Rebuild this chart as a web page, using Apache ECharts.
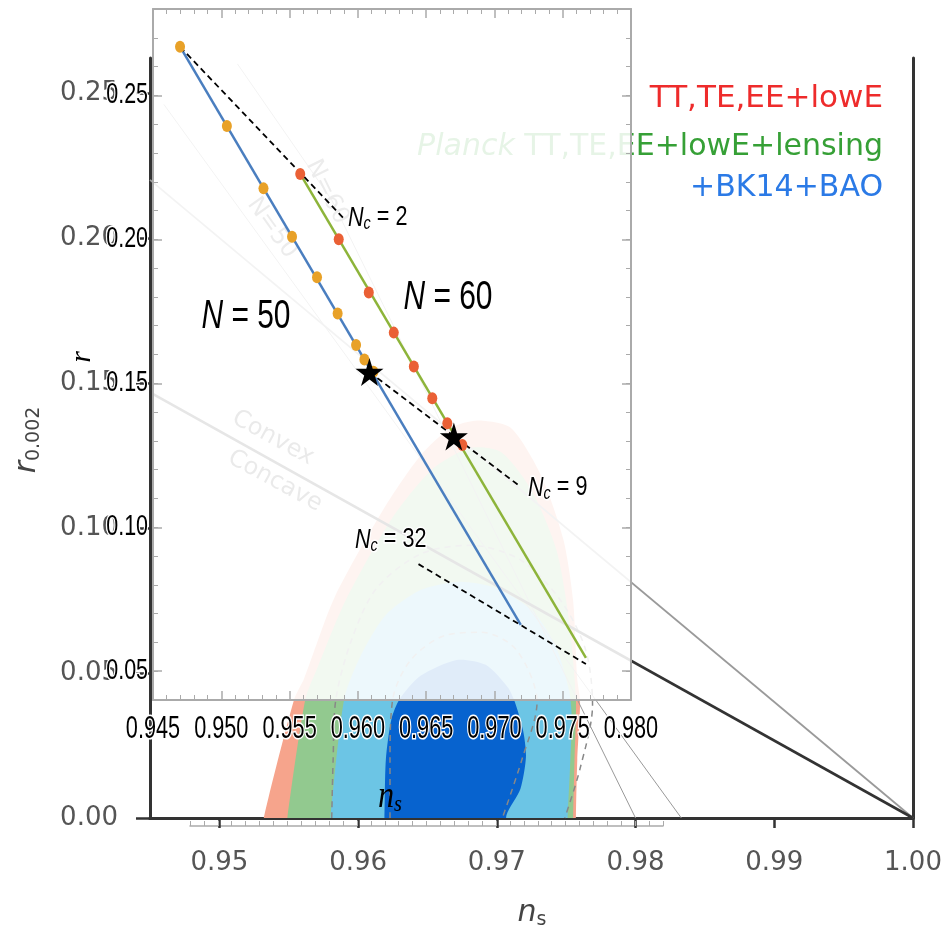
<!DOCTYPE html>
<html>
<head>
<meta charset="utf-8">
<script src="https://cdn.jsdelivr.net/npm/echarts@6/dist/echarts.min.js"></script>
<style>
html,body{margin:0;padding:0;background:#fff}
#chart{width:947px;height:928px}
</style>
</head>
<body>
<div id="chart"></div>
<script>
// ---- background panel (Planck n_s - r plane) ----
const bgTickX = [0.95, 0.96, 0.97, 0.98, 0.99, 1.00];
const bgTickY = [0.00, 0.05, 0.10, 0.15, 0.20, 0.25];

const redContour = [[0.9530,-0.01],[0.9532,0],[0.9554,0.041],[0.9561,0.048],[0.9583,0.076],[0.9619,0.107],[0.9645,0.125],
  [0.9667,0.1345],[0.9686,0.137],[0.9710,0.1345],[0.9732,0.118],[0.9748,0.096],[0.9755,0.075],
  [0.9758,0.048],[0.9760,0.040],[0.9758,0.020],[0.9757,0],[0.9757,-0.01]];
const greenContour = [[0.9548,-0.01],[0.9549,0],[0.9562,0.041],[0.9570,0.051],[0.9591,0.075],[0.9624,0.103],[0.9653,0.120],
  [0.9681,0.1276],[0.9703,0.1262],[0.9725,0.113],[0.9743,0.0924],[0.9752,0.0683],[0.9757,0.041],[0.9756,0.020],
  [0.9755,0],[0.9755,-0.01]];
const lightBlueContour = [[0.9579,-0.01],[0.9580,0],[0.9590,0.041],[0.9602,0.056],[0.9620,0.070],[0.9645,0.0786],[0.9672,0.0814],
  [0.9699,0.0793],[0.9725,0.0717],[0.9742,0.0597],[0.9752,0.0441],[0.9754,0.035],[0.9753,0.020],[0.9751,0],[0.9750,-0.01]];
const darkBlueContour = [[0.9618,-0.01],[0.9619,0],[0.9620,0.020],[0.9624,0.034],[0.9630,0.041],[0.9645,0.049],[0.9671,0.0545],
  [0.9692,0.0528],[0.9708,0.045],[0.9713,0.040],[0.9719,0.030],[0.9721,0.021],[0.9717,0.010],[0.9707,0.001],[0.9705,-0.01]];
const dashOuter = [[0.9581,0],[0.9582,0.020],[0.9584,0.041],[0.9595,0.061],[0.9613,0.079],[0.9645,0.091],
  [0.9681,0.094],[0.9717,0.089],[0.9746,0.075],[0.9764,0.058],[0.9769,0.039],[0.9760,0.017],[0.9749,0]];
const dashInner = [[0.9623,0],[0.9623,0.020],[0.9625,0.041],[0.9638,0.0545],[0.9663,0.063],[0.9689,0.064],
  [0.9714,0.058],[0.9729,0.040],[0.9718,0.020],[0.9704,0]];
const convexLine = [[0.945, 0.1467], [1.0, 0]];
const phi2Line = [[0.945, 0.22], [1.0, 0]];
const bgN60Line = [[0.9800, 0], [0.9581, 0.213], [0.9513, 0.260]];
const bgN50Line = [[0.9833, 0], [0.9460, 0.246]];

// ---- inset (model predictions) ----
const insetTickX = [0.945, 0.950, 0.955, 0.960, 0.965, 0.970, 0.975, 0.980];
const insetTickY = [0.05, 0.10, 0.15, 0.20, 0.25];
const insetMinorY = [0.05,0.06,0.07,0.08,0.09,0.10,0.11,0.12,0.13,0.14,0.15,0.16,0.17,0.18,0.19,
  0.20,0.21,0.22,0.23,0.24,0.25,0.26,0.27,0.28];
const n50Line = [[0.94698, 0.2669], [0.97193, 0.0661]];
const n60Line = [[0.95578, 0.2227], [0.97670, 0.0546]];
const n50Dots = [[0.94698,0.2669],[0.95041,0.2394],[0.95309,0.2177],[0.95518,0.2009],[0.95701,0.1868],
  [0.95852,0.1742],[0.95987,0.1633],[0.96048,0.1583],[0.96114,0.1540]];
const n60Dots = [[0.95578,0.2227],[0.95860,0.2000],[0.96080,0.1815],[0.96263,0.1676],[0.96410,0.1558],
  [0.96545,0.1448],[0.96655,0.1361],[0.96765,0.1286]];
const stars = [[0.96085,0.1539],[0.96703,0.1315]];
const nc2Line = [[0.94698,0.2669],[0.95894,0.2074]];
const nc9Line = [[0.96085,0.1539],[0.97193,0.1140]];
const nc32Line = [[0.96444,0.0872],[0.97670,0.0525]];

// the inset texts are horizontally squeezed in the original, so they get a scaleX
const ARIAL = "'Liberation Sans',Arial,sans-serif";
const SQ = 0.7;
const SANS = "'DejaVu Sans',sans-serif";
const SERIF = "'Liberation Serif','DejaVu Serif',serif";
const STAR = 'path://M50,0 L61,35 L98,35 L68,57 L79,91 L50,70 L21,91 L32,57 L2,35 L39,35 Z';

function polygon(pts, color) {
  return {
    type: 'custom', xAxisIndex: 0, yAxisIndex: 0, zlevel: 0, silent: true, clip: true, data: [0],
    renderItem: function (params, api) {
      return {type: 'polygon', shape: {points: pts.map(p => api.coord(p)), smooth: 0.25},
        style: {fill: color}};
    }
  };
}
function bgLine(pts, color, width, type, smooth) {
  return {type: 'line', xAxisIndex: 0, yAxisIndex: 0, zlevel: 0, data: pts, showSymbol: false,
    silent: true, smooth: smooth || false, lineStyle: {color: color, width: width, type: type || 'solid'}};
}
function inLine(pts, color, width, type) {
  return {type: 'line', xAxisIndex: 2, yAxisIndex: 2, zlevel: 1, z: 3, data: pts, showSymbol: false,
    silent: true, lineStyle: {color: color, width: width, type: type || 'solid'}};
}
function txt(x, y, text, o) {
  return {type: 'text', x: x, y: y, zlevel: o.zlevel || 0, z: 50, rotation: o.rot || 0,
    scaleX: o.sx || 1,
    style: {text: text, fill: o.color || '#000', fontSize: o.size, fontFamily: o.family || SANS,
      fontStyle: o.style || 'normal', align: o.align || 'center', verticalAlign: 'middle',
      rich: o.rich, stroke: o.halo ? '#fff' : null, lineWidth: o.halo ? 3 : 0, strokeFirst: true}};
}
function ncLabel(x, y, n) {
  return txt(x, y, '{i|N}{s|c}{t| = ' + n + '}', {size: 26, zlevel: 1, family: ARIAL, align: 'left', sx: 0.8, halo: true,
    rich: {i: {fontStyle: 'italic', fontSize: 27, fontFamily: ARIAL, fill: '#000', lineHeight: 30},
      s: {fontStyle: 'italic', fontSize: 18, fontFamily: ARIAL, fill: '#000', lineHeight: 16, verticalAlign: 'bottom'},
      t: {fontSize: 27, fontFamily: ARIAL, fill: '#000', lineHeight: 30}}});
}
function nLabel(x, y, n) {
  return txt(x, y, '{i|N}{t| = ' + n + '}', {size: 41, zlevel: 1, family: ARIAL, sx: 0.73, halo: true,
    rich: {i: {fontStyle: 'italic', fontSize: 41, fontFamily: ARIAL, fill: '#000'},
      t: {fontSize: 41, fontFamily: ARIAL, fill: '#000'}}});
}

const insetX = {min: 0.945, max: 0.98, interval: 0.005, gridIndex: 1, zlevel: 1, z: 5,
  axisLine: {lineStyle: {color: '#aaa', width: 2}},
  axisTick: {inside: true, length: 9, lineStyle: {color: '#aaa', width: 1.5}},
  minorTick: {show: true, splitNumber: 5, length: 5, lineStyle: {color: '#aaa', width: 1}},
  axisLabel: {show: false}, splitLine: {show: false}};
const insetYMajor = {min: 0.04, max: 0.28, gridIndex: 1, zlevel: 1, z: 5,
  axisLine: {show: true, lineStyle: {color: '#aaa', width: 2}},
  axisTick: {show: true, inside: true, length: 9, customValues: insetTickY, lineStyle: {color: '#aaa', width: 1.5}},
  axisLabel: {show: false}, splitLine: {show: false}};
const insetYMinor = {min: 0.04, max: 0.28, gridIndex: 1, zlevel: 1, z: 5,
  axisLine: {show: false}, axisLabel: {show: false},
  axisTick: {show: true, inside: true, length: 5, customValues: insetMinorY, lineStyle: {color: '#aaa', width: 1}},
  splitLine: {show: false}};

const staticGraphic = [
  // legend of the background figure
  txt(883, 99, 'TT,TE,EE+lowE', {size: 31, color: '#ee2b2b', align: 'right'}),
  txt(883, 147, '{i|Planck} TT,TE,EE+lowE+lensing', {size: 30, color: '#36a036', align: 'right',
    rich: {i: {fontStyle: 'italic', fontSize: 30, fontFamily: SANS, fill: '#36a036'}}}),
  txt(883, 188, '+BK14+BAO', {size: 30, color: '#2b7ae6', align: 'right'}),
  // background annotations
  txt(273, 438, 'Convex', {size: 24, color: '#555', rot: -0.5}),
  txt(275, 481, 'Concave', {size: 24, color: '#555', rot: -0.5}),
  txt(272, 228, 'N=50', {size: 24, color: '#666', rot: -0.95}),
  txt(327, 192, 'N=60', {size: 24, color: '#666', rot: -1.11}),
  txt(532, 913, '{i|n}{s|s}', {size: 30, color: '#444',
    rich: {i: {fontStyle: 'italic', fontSize: 30, fontFamily: SANS, fill: '#444', lineHeight: 34},
      s: {fontSize: 19, fontFamily: SANS, fill: '#444', lineHeight: 18, verticalAlign: 'bottom'}}}),
  txt(27, 440, '{i|r}{s|0.002}', {size: 30, color: '#444', rot: Math.PI / 2,
    rich: {i: {fontStyle: 'italic', fontSize: 30, fontFamily: SANS, fill: '#444', lineHeight: 34},
      s: {fontSize: 19, fontFamily: SANS, fill: '#444', lineHeight: 18, verticalAlign: 'bottom'}}}),
  // inset annotations
  nLabel(246, 317, '50'),
  nLabel(448, 298, '60'),
  ncLabel(348, 218, '2'),
  ncLabel(528, 488, '9'),
  ncLabel(355, 540, '32'),
  txt(82, 357, 'r', {size: 30, zlevel: 1, family: SERIF, style: 'italic', rot: Math.PI / 2}),
  txt(390, 797, '{i|n}{s|s}', {size: 36, zlevel: 1, sx: 0.85,
    rich: {i: {fontStyle: 'italic', fontSize: 38, fontFamily: SERIF, fill: '#000', lineHeight: 40},
      s: {fontStyle: 'italic', fontSize: 24, fontFamily: SERIF, fill: '#000', lineHeight: 20, verticalAlign: 'bottom'}}})
];

const option = {
  animation: false,
  backgroundColor: '#fff',
  grid: [
    {left: 150, top: 58, width: 763, height: 760, zlevel: 0},
    {left: 153, top: 9, width: 478, height: 691, zlevel: 1, z: 0, show: true,
      backgroundColor: 'rgba(255,255,255,0.88)', borderWidth: 0},
    {left: 190, top: 825, width: 473, height: 1, zlevel: 0}
  ],
  xAxis: [
    {type: 'value', gridIndex: 0, min: 0.945, max: 1.0, zlevel: 0,
      axisLine: {lineStyle: {color: '#333', width: 3}},
      axisTick: {show: true, length: 10, customValues: bgTickX, lineStyle: {color: '#333', width: 2.5}},
      axisLabel: {customValues: bgTickX, formatter: v => v.toFixed(2), color: '#555', fontSize: 26,
        fontFamily: SANS, margin: 32},
      splitLine: {show: false}},
    {type: 'value', gridIndex: 0, position: 'top', min: 0.945, max: 1.0, zlevel: 0,
      axisLine: {lineStyle: {color: '#333', width: 3}}, axisTick: {show: false},
      axisLabel: {show: false}, splitLine: {show: false}},
    Object.assign({type: 'value', position: 'bottom'}, insetX),
    Object.assign({type: 'value', position: 'top'}, insetX),
    {type: 'value', gridIndex: 2, min: 0.948, max: 0.982, interval: 0.001, zlevel: 0,
      axisLine: {lineStyle: {color: '#aaa', width: 1.5}},
      axisTick: {inside: true, length: 5, lineStyle: {color: '#aaa', width: 1}},
      axisLabel: {show: false}, splitLine: {show: false}}
  ],
  yAxis: [
    {type: 'value', gridIndex: 0, min: 0, max: 0.262, zlevel: 0,
      axisLine: {show: true, lineStyle: {color: '#333', width: 3}},
      axisTick: {show: true, length: 14, customValues: bgTickY, lineStyle: {color: '#333', width: 2.5}},
      axisLabel: {customValues: bgTickY, formatter: v => v.toFixed(2), color: '#555', fontSize: 26,
        fontFamily: SANS, margin: 32},
      splitLine: {show: false}},
    {type: 'value', gridIndex: 0, position: 'right', min: 0, max: 0.262, zlevel: 0,
      axisLine: {show: true, lineStyle: {color: '#333', width: 3}}, axisTick: {show: false},
      axisLabel: {show: false}, splitLine: {show: false}},
    Object.assign({type: 'value', position: 'left'}, insetYMajor),
    Object.assign({type: 'value', position: 'right'}, insetYMajor),
    Object.assign({type: 'value', position: 'left'}, insetYMinor),
    Object.assign({type: 'value', position: 'right'}, insetYMinor),
    {type: 'value', gridIndex: 2, show: false, min: 0, max: 1}
  ],
  series: [
    polygon(redContour, '#f6a48c'),
    polygon(greenContour, '#92c98f'),
    polygon(lightBlueContour, '#6cc5e5'),
    polygon(darkBlueContour, '#0763cf'),
    bgLine(dashOuter, '#888', 1.5, [6, 5], 0.3),
    bgLine(dashInner, '#888', 1.5, [6, 5], 0.3),
    bgLine(bgN60Line, '#999', 1),
    bgLine(bgN50Line, '#999', 1),
    bgLine(phi2Line, '#9a9a9a', 1.8),
    bgLine(convexLine, '#333', 2.6),

    inLine(n50Line, '#4a7ebf', 2.5),
    inLine(n60Line, '#8db43a', 2.5),
    inLine(nc2Line, '#000', 1.8, [6, 4]),
    inLine(nc9Line, '#000', 1.8, [6, 4]),
    inLine(nc32Line, '#000', 1.8, [6, 4]),
    {type: 'scatter', xAxisIndex: 2, yAxisIndex: 2, zlevel: 1, z: 4, silent: true, data: n50Dots,
      symbol: 'circle', symbolSize: [10, 12], itemStyle: {color: '#e8a128', opacity: 1}},
    {type: 'scatter', xAxisIndex: 2, yAxisIndex: 2, zlevel: 1, z: 4, silent: true, data: n60Dots,
      symbol: 'circle', symbolSize: [10, 12], itemStyle: {color: '#ea6035', opacity: 1}},
    {type: 'scatter', xAxisIndex: 2, yAxisIndex: 2, zlevel: 1, z: 6, silent: true, data: stars,
      symbol: STAR, symbolSize: 28, itemStyle: {color: '#000', opacity: 1}}
  ],
  graphic: staticGraphic
};

const chart = echarts.init(document.getElementById('chart'));
chart.setOption(option);

// inset tick labels, placed through the inset axes
const tickLabels = [];
insetTickX.forEach(v => {
  const px = chart.convertToPixel({xAxisIndex: 2}, v);
  tickLabels.push(txt(px, 729, v.toFixed(3), {size: 31, zlevel: 1, family: ARIAL, sx: SQ, halo: true}));
});
insetTickY.forEach(v => {
  const py = chart.convertToPixel({yAxisIndex: 2}, v);
  tickLabels.push(txt(148, py, v.toFixed(2), {size: 29, zlevel: 1, family: ARIAL, sx: 0.74, halo: true, align: 'right'}));
});
chart.setOption({graphic: staticGraphic.concat(tickLabels)});
</script>
</body>
</html>
